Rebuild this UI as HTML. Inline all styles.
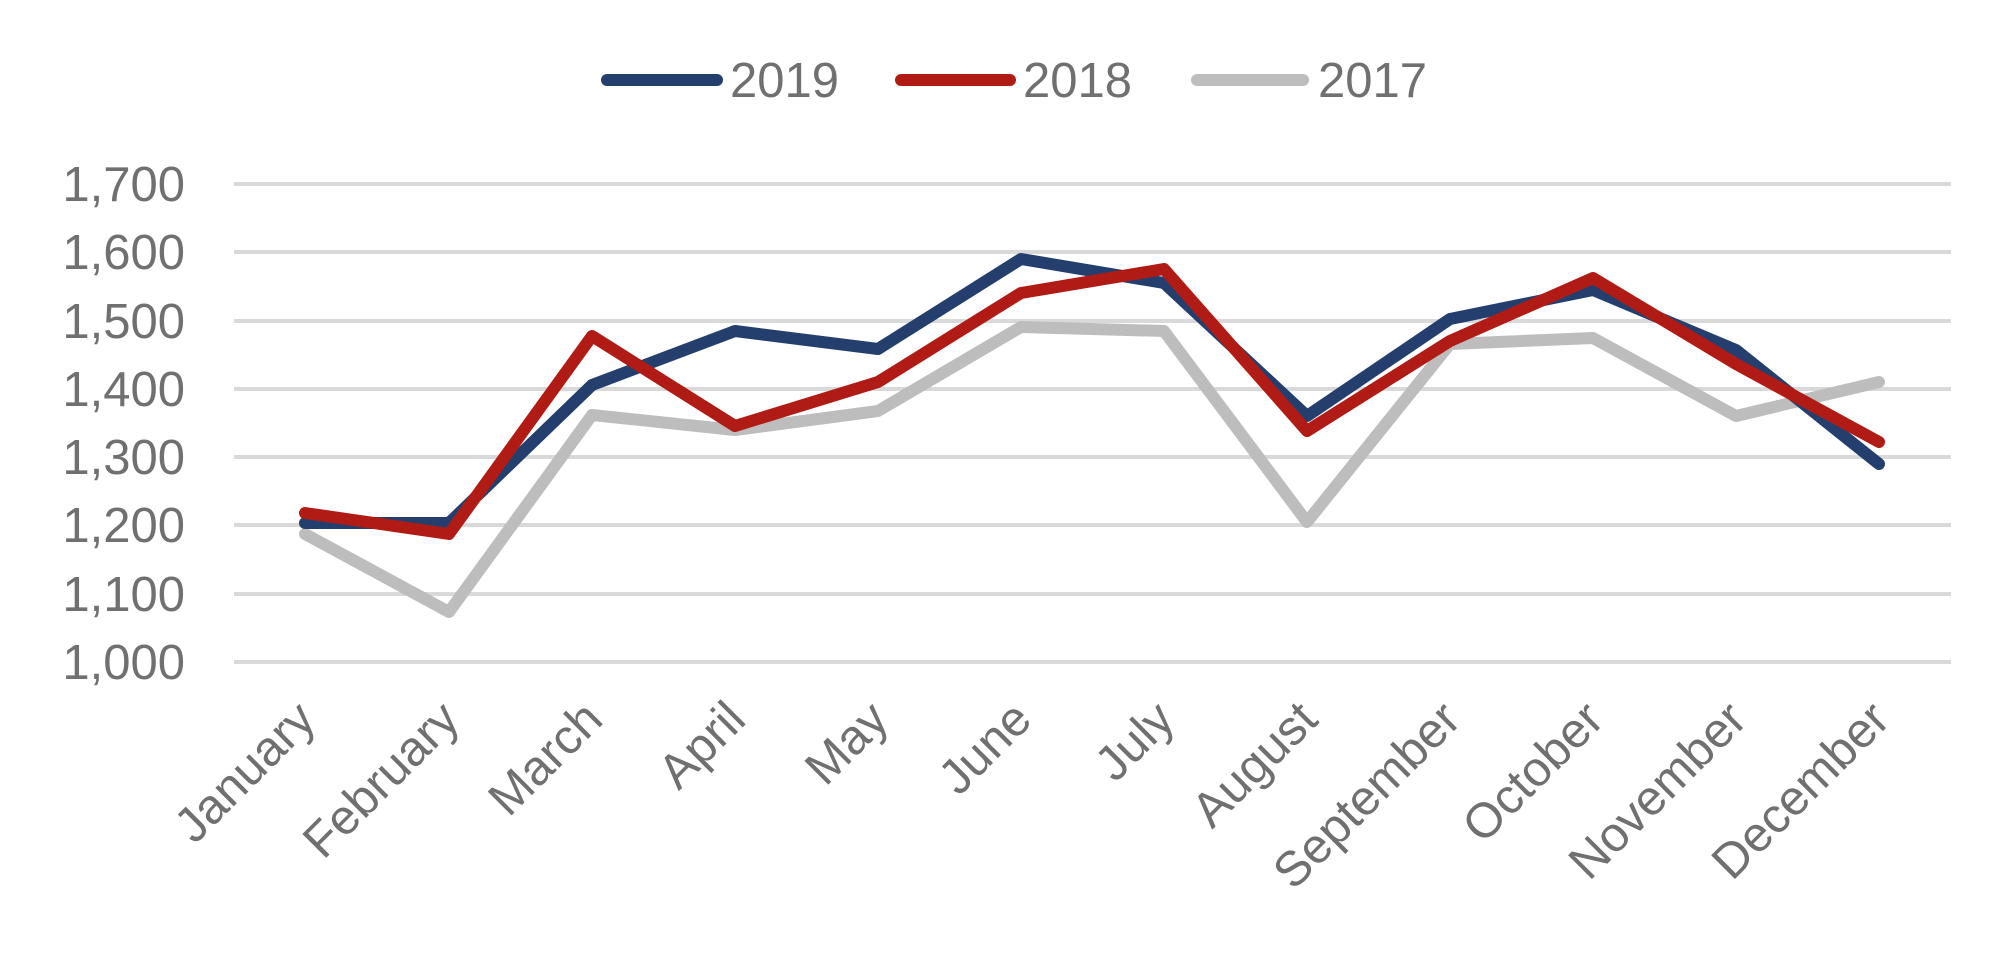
<!DOCTYPE html>
<html><head><meta charset="utf-8"><style>
html,body{margin:0;padding:0;background:#fff;}
svg{display:block;}
text{font-family:"Liberation Sans",sans-serif;fill:#707070;}
</style></head><body>
<svg width="2000" height="969" viewBox="0 0 2000 969">
<g stroke="#d9d9d9" stroke-width="4">
<line x1="234" x2="1951" y1="184" y2="184"/>
<line x1="234" x2="1951" y1="252" y2="252"/>
<line x1="234" x2="1951" y1="321" y2="321"/>
<line x1="234" x2="1951" y1="389" y2="389"/>
<line x1="234" x2="1951" y1="457" y2="457"/>
<line x1="234" x2="1951" y1="525" y2="525"/>
<line x1="234" x2="1951" y1="594" y2="594"/>
<line x1="234" x2="1951" y1="662" y2="662"/>
</g>
<g font-size="49" text-anchor="end">
<text x="185" y="201">1,700</text>
<text x="185" y="269">1,600</text>
<text x="185" y="338">1,500</text>
<text x="185" y="406">1,400</text>
<text x="185" y="474">1,300</text>
<text x="185" y="542">1,200</text>
<text x="185" y="611">1,100</text>
<text x="185" y="679">1,000</text>
</g>
<g fill="none" stroke-width="12" stroke-linejoin="round" stroke-linecap="round">
<polyline stroke="#bdbdbd" points="305,534 449,612 592,415 735,430 878,411 1021,327 1164,331 1307,522 1450,344 1593,338 1736,416 1879,382"/>
<polyline stroke="#243f6d" points="305,523 449,523 592,385 735,331 878,349 1021,259 1164,283 1307,416 1450,319 1593,290 1736,350 1879,464"/>
<polyline stroke="#b01c15" points="305,513 449,534 592,336 735,426 878,382 1021,293 1164,269 1307,431 1450,341 1593,278 1736,364 1879,442"/>
</g>
<g stroke-width="12" stroke-linecap="round">
<line x1="607" x2="717" y1="80" y2="80" stroke="#243f6d"/>
<line x1="901" x2="1010" y1="80" y2="80" stroke="#b01c15"/>
<line x1="1197" x2="1303" y1="80" y2="80" stroke="#bdbdbd"/>
</g>
<g font-size="49">
<text x="730" y="97">2019</text>
<text x="1023" y="97">2018</text>
<text x="1318" y="97">2017</text>
</g>
<g font-size="49" text-anchor="end">
<text transform="translate(318,722) rotate(-45)">January</text>
<text transform="translate(462,722) rotate(-45)">February</text>
<text transform="translate(605,722) rotate(-45)">March</text>
<text transform="translate(748,722) rotate(-45)">April</text>
<text transform="translate(891,722) rotate(-45)">May</text>
<text transform="translate(1034,722) rotate(-45)">June</text>
<text transform="translate(1177,722) rotate(-45)">July</text>
<text transform="translate(1320,722) rotate(-45)">August</text>
<text transform="translate(1463,722) rotate(-45)">September</text>
<text transform="translate(1606,722) rotate(-45)">October</text>
<text transform="translate(1749,722) rotate(-45)">November</text>
<text transform="translate(1892,722) rotate(-45)">December</text>
</g>
</svg>
</body></html>
